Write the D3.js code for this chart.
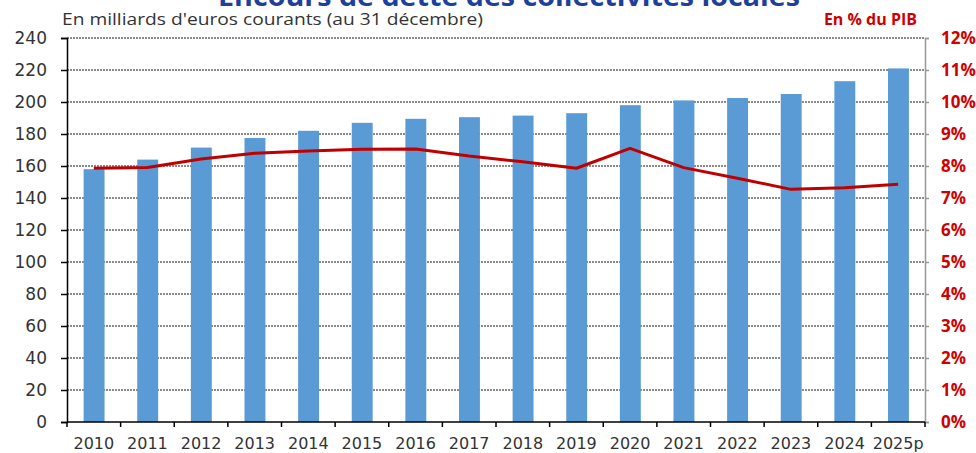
<!DOCTYPE html>
<html>
<head>
  <script src="https://d3js.org/d3.v7.min.js"></script>
  <style>
    body { margin: 0; background: #fff; }
    text { font-family: "Open Sans", Helvetica, sans-serif; }
  </style>
</head>
<body>
<svg id="chart" width="976" height="453"></svg>
<script>
// chart data
var years = ["2010","2011","2012","2013","2014","2015","2016","2017","2018","2019","2020","2021","2022","2023","2024","2025p"];
var debt = [158, 164, 171.5, 177.5, 182, 187, 189.5, 190.5, 191.5, 193, 198, 201, 202.5, 205, 213, 221];
var pctGdp = [7.93, 7.95, 8.22, 8.40, 8.47, 8.52, 8.53, 8.31, 8.13, 7.93, 8.55, 7.95, 7.62, 7.27, 7.32, 7.43];
var leftTicks = d3.range(0, 241, 20);
var rightTicks = d3.range(0, 13, 1);

var svg = d3.select("#chart");
var plotLeft = 67, plotRight = 925, plotTop = 38, plotBottom = 422;
var numFont = "DejaVu Sans, Open Sans, sans-serif";

var x = d3.scaleBand().domain(years).range([plotLeft, plotRight]).paddingInner(0).paddingOuter(0);
var y = d3.scaleLinear().domain([0, 240]).range([plotBottom, plotTop]);
var y2 = d3.scaleLinear().domain([0, 12]).range([plotBottom, plotTop]);

// title (cut off at top)
svg.append("text")
    .attr("x", 218).attr("y", 6)
    .attr("font-size", 26).attr("font-weight", "bold")
    .attr("fill", "#1f3f9a")
    .attr("textLength", 582).attr("lengthAdjust", "spacingAndGlyphs")
    .text("Encours de dette des collectivités locales");

svg.append("text")
    .attr("x", 62).attr("y", 25)
    .attr("font-size", 16).attr("fill", "#333")
    .attr("textLength", 421).attr("lengthAdjust", "spacingAndGlyphs")
    .text("En milliards d'euros courants (au 31 décembre)");

svg.append("text")
    .attr("x", 917).attr("y", 25)
    .attr("text-anchor", "end")
    .attr("font-size", 16).attr("font-weight", "bold")
    .attr("fill", "#d00000")
    .text("En % du PIB");

// gridlines
svg.append("g").selectAll("line")
    .data(leftTicks.filter(d => d > 0))
    .enter().append("line")
    .attr("x1", plotLeft).attr("x2", plotRight)
    .attr("y1", d => y(d)).attr("y2", d => y(d))
    .attr("stroke", "#666").attr("stroke-width", 1.6)
    .attr("stroke-dasharray", "2,1");

// bars
svg.append("g").selectAll("rect")
    .data(debt)
    .enter().append("rect")
    .attr("x", (d, i) => x(years[i]) + x.bandwidth() * 0.31)
    .attr("width", x.bandwidth() * 0.39)
    .attr("y", d => y(d))
    .attr("height", d => plotBottom - y(d))
    .attr("fill", "#5b9bd5");

// line
var line = d3.line()
    .x((d, i) => x(years[i]) + x.bandwidth() / 2)
    .y(d => y2(d));
svg.append("path")
    .datum(pctGdp)
    .attr("d", line)
    .attr("fill", "none")
    .attr("stroke", "#c00000")
    .attr("stroke-width", 3)
    .attr("stroke-linejoin", "round");

// left axis
var gl = svg.append("g").attr("transform", "translate(" + plotLeft + ",0)")
    .call(d3.axisLeft(y).tickValues(leftTicks).tickSize(6).tickPadding(14));
gl.select(".domain").attr("stroke", "#000").attr("stroke-width", 1.5);
gl.selectAll(".tick line").attr("stroke", "#000").attr("stroke-width", 1.5);
gl.selectAll("text").attr("font-size", 17).attr("fill", "#333")
    .style("font-family", numFont);

// right axis
var gr = svg.append("g").attr("transform", "translate(" + plotRight + ",0)")
    .call(d3.axisRight(y2).tickValues(rightTicks).tickSize(4).tickPadding(12).tickFormat(d => d + "%"));
gr.select(".domain").attr("stroke", "#999").attr("stroke-width", 1.5);
gr.selectAll(".tick line").attr("stroke", "#999").attr("stroke-width", 1.5);
gr.selectAll("text").attr("font-size", 17).attr("font-weight", "bold").attr("fill", "#d00000")
    .style("font-family", "Open Sans, Helvetica, sans-serif");

// bottom axis
var gb = svg.append("g").attr("transform", "translate(0," + plotBottom + ")")
    .call(d3.axisBottom(x).tickSize(0).tickPadding(16));
gb.select(".domain").remove();
gb.selectAll("text").attr("font-size", 16).attr("fill", "#333")
    .style("font-family", numFont);
svg.append("line")
    .attr("x1", plotLeft).attr("x2", plotRight)
    .attr("y1", plotBottom).attr("y2", plotBottom)
    .attr("stroke", "#000").attr("stroke-width", 1.5);
svg.append("g").selectAll("line")
    .data(years.concat(["end"]))
    .enter().append("line")
    .attr("x1", (d, i) => plotLeft + i * x.bandwidth())
    .attr("x2", (d, i) => plotLeft + i * x.bandwidth())
    .attr("y1", plotBottom).attr("y2", plotBottom + 5)
    .attr("stroke", "#000").attr("stroke-width", 1.5);
</script>
</body>
</html>
